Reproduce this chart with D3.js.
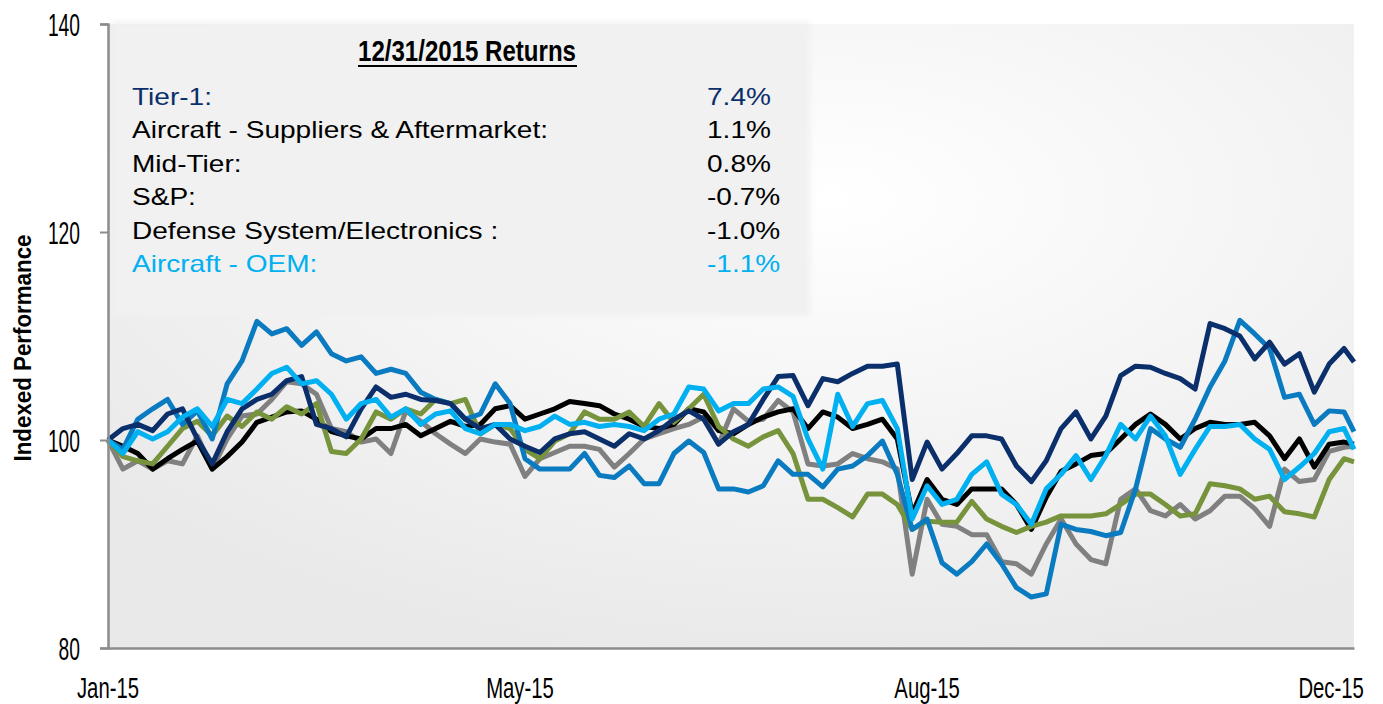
<!DOCTYPE html>
<html lang="en">
<head>
  <meta charset="UTF-8" />
  <title>Indexed Performance 2015</title>
  <script src="https://d3js.org/d3.v7.min.js"></script>
  <style>
    body {
      margin: 0;
      background: #fff;
      font-family: "Liberation Sans", Arial, sans-serif;
    }
    svg { display: block; }
  </style>
</head>
<body>
  <div id="chart"></div>

  <script>
    const width = 1383;
    const height = 704;

    // x axis: trading-day index, one sample every 3 sessions
    const xTickDays = [0, 83, 165, 247];
    const xTickLabels = ["Jan-15", "May-15", "Aug-15", "Dec-15"];
    const yTicks = [80, 100, 120, 140];

    const tier1 = [100.0,101.1,101.5,100.9,102.5,103.0,100.1,97.7,100.8,103.0,
      103.9,104.4,105.7,106.1,101.5,101.1,100.3,103.0,105.1,104.1,
      104.4,103.9,103.8,103.5,102.0,101.1,101.5,100.1,99.4,98.8,
      100.1,100.6,100.8,100.1,99.4,100.6,100.1,100.9,102.0,102.8,
      102.0,99.6,100.8,101.5,103.9,106.1,106.2,103.3,105.9,105.6,
      106.4,107.1,107.1,107.3,96.2,99.8,97.2,98.7,100.4,100.4,
      100.1,97.5,96.0,98.0,101.1,102.7,100.1,102.3,106.2,107.1,
      107.0,106.4,105.9,104.9,111.2,110.7,110.0,107.8,109.4,107.3,
      108.3,104.6,107.3,108.8,107.5];

    const suppliers = [100.0,99.1,102.0,103.0,103.9,101.5,102.8,100.1,105.4,107.6,
      111.4,110.2,110.7,109.1,110.4,108.3,107.6,108.0,106.4,106.8,
      106.4,104.6,103.9,103.5,102.0,102.5,105.4,103.5,98.2,97.2,
      97.2,97.2,98.7,96.6,96.4,97.5,95.8,95.8,98.7,99.9,
      98.8,95.3,95.3,95.0,95.6,98.0,96.7,96.7,95.5,97.2,
      97.5,98.5,99.9,96.7,91.4,92.4,88.2,87.1,88.3,90.0,
      88.1,85.8,84.9,85.2,91.9,91.4,91.2,90.8,91.1,95.3,
      101.1,100.1,99.3,102.0,105.1,107.6,111.5,110.2,108.8,104.1,
      104.4,101.5,102.8,102.7,100.8];

    const midTier = [100.0,97.2,98.0,97.2,98.0,97.7,100.4,97.2,100.1,102.3,
      102.5,103.9,105.6,105.4,104.4,101.1,100.8,99.8,100.1,98.7,
      102.8,101.8,100.6,99.6,98.7,100.1,99.8,99.6,96.5,98.2,
      98.8,99.4,99.4,99.1,97.4,98.7,100.1,100.6,101.1,101.5,
      102.2,99.6,103.0,101.8,102.0,103.8,102.7,97.7,97.5,97.7,
      98.7,98.2,97.9,97.2,87.1,94.3,91.9,91.7,90.9,90.9,
      88.3,88.1,87.1,90.0,92.4,90.0,88.5,88.1,94.3,95.3,
      93.2,92.7,93.8,92.4,93.2,94.6,94.6,93.4,91.7,97.2,
      96.0,96.2,98.9,99.3,99.4];

    const sp500 = [100.0,99.4,98.7,97.2,98.2,99.1,99.9,97.2,98.4,99.8,
      101.7,102.2,102.7,102.8,102.0,100.8,100.4,100.1,101.1,101.1,
      101.5,100.4,101.1,101.8,101.3,101.5,103.0,103.3,102.0,102.5,
      103.0,103.7,103.5,103.3,102.5,102.0,101.3,101.1,101.5,103.0,
      102.7,100.9,100.6,101.5,102.2,102.7,103.0,101.1,102.7,102.2,
      101.1,101.5,102.0,100.1,92.9,96.2,94.3,93.8,95.3,95.3,
      95.3,93.8,91.4,94.5,97.0,97.7,98.5,98.7,100.1,101.5,
      102.5,101.5,100.1,101.1,101.7,101.5,101.5,101.7,100.4,98.2,
      100.1,97.4,99.6,99.8,99.6];

    const defense = [100.0,98.4,98.0,97.7,99.4,101.1,101.8,100.4,102.3,101.3,
      102.7,102.0,103.2,102.5,103.5,98.9,98.7,100.1,102.7,102.0,
      103.0,102.5,103.9,103.5,103.9,100.6,101.5,101.1,99.1,98.2,
      99.9,100.6,102.7,102.0,102.0,102.7,101.3,103.5,101.7,103.0,
      104.4,101.3,100.1,99.4,100.3,100.9,98.7,94.3,94.3,93.5,
      92.6,94.8,94.8,93.8,91.4,92.2,92.1,92.1,94.1,92.4,
      91.7,91.1,91.7,92.1,92.7,92.7,92.7,92.9,93.8,94.8,
      94.8,93.8,92.7,92.9,95.8,95.6,95.3,94.3,94.6,93.1,
      92.9,92.6,96.2,98.2,97.9];

    const aircraftOEM = [100.0,98.7,100.8,100.1,100.8,102.2,103.0,101.3,103.9,103.5,
      104.9,106.4,107.0,105.4,105.7,104.4,102.0,103.5,103.9,102.2,
      103.0,101.5,102.5,102.8,101.1,100.6,101.5,101.5,100.9,101.3,
      102.3,101.5,101.7,101.3,101.5,101.3,100.9,102.0,102.5,105.1,
      104.9,102.8,103.5,103.5,104.9,105.1,104.2,100.1,97.2,104.4,
      101.3,103.5,103.8,101.1,92.4,95.6,93.8,94.3,96.7,97.9,
      94.8,93.8,91.9,95.3,96.7,98.5,96.2,98.5,101.5,100.1,
      102.3,100.4,96.7,99.1,101.3,101.3,101.5,100.1,99.1,96.2,
      97.4,98.7,100.8,101.1,99.1];

    const legendNames = ["Tier-1:", "Aircraft - Suppliers & Aftermarket:", "Mid-Tier:",
      "S&P:", "Defense System/Electronics :", "Aircraft - OEM:"];
    const legendReturns = ["7.4%", "1.1%", "0.8%", "-0.7%", "-1.0%", "-1.1%"];
    const legendColors = ["#0b2f6b", "#000", "#000", "#000", "#000", "#00b0f0"];

    // drawing order, back to front
    const series = [
      { values: midTier, color: "#808080" },
      { values: sp500, color: "#000000" },
      { values: defense, color: "#77933c" },
      { values: suppliers, color: "#0a7bc1" },
      { values: tier1, color: "#0b2f6b" },
      { values: aircraftOEM, color: "#00b0f0" }
    ];

    const sampleDays = tier1.map((d, i) => Math.min(i * 3, 251));

    const plot = { left: 108, right: 1354, top: 24, bottom: 648 };

    const x = d3.scaleLinear().domain([0, 251]).range([plot.left, plot.right]);
    const y = d3.scaleLinear().domain([80, 140]).range([plot.bottom, plot.top]);

    const svg = d3.select("#chart")
      .append("svg")
      .attr("width", width)
      .attr("height", height);

    const defs = svg.append("defs");
    const grad = defs.append("radialGradient")
      .attr("id", "plotBg")
      .attr("cx", "58%").attr("cy", "28%").attr("r", "75%");
    grad.append("stop").attr("offset", "0%").attr("stop-color", "#ffffff");
    grad.append("stop").attr("offset", "100%").attr("stop-color", "#e9e9e9");

    defs.append("filter").attr("id", "soft")
      .attr("x", "-5%").attr("y", "-5%").attr("width", "110%").attr("height", "110%")
      .append("feGaussianBlur").attr("stdDeviation", 3);

    svg.append("rect")
      .attr("x", plot.left).attr("y", plot.top)
      .attr("width", plot.right - plot.left).attr("height", plot.bottom - plot.top)
      .attr("fill", "url(#plotBg)");

    // legend panel
    svg.append("rect")
      .attr("x", 112).attr("y", 22)
      .attr("width", 698).attr("height", 294)
      .attr("fill", "#f1f1f1")
      .attr("filter", "url(#soft)");

    // lines
    const line = d3.line()
      .x((d, i) => x(sampleDays[i]))
      .y(d => y(d));

    svg.append("g")
      .selectAll("path")
      .data(series)
      .enter()
      .append("path")
      .attr("d", d => line(d.values))
      .attr("fill", "none")
      .attr("stroke", d => d.color)
      .attr("stroke-width", 5)
      .attr("stroke-linejoin", "round");

    // squeeze text horizontally (narrow look) without transforms
    function squeeze(sel, k) {
      sel.each(function () {
        const len = this.getComputedTextLength();
        d3.select(this)
          .attr("textLength", len * k)
          .attr("lengthAdjust", "spacingAndGlyphs");
      });
    }

    // axes
    const yAxis = svg.append("g")
      .attr("transform", `translate(${plot.left},0)`)
      .call(d3.axisLeft(y).tickValues(yTicks).tickSize(8).tickFormat(d3.format("d")));
    yAxis.select(".domain").attr("stroke", "#8c8c8c").attr("stroke-width", 2.5);
    yAxis.selectAll(".tick line").attr("stroke", "#8c8c8c").attr("stroke-width", 2);
    yAxis.selectAll(".tick text")
      .attr("x", -28)
      .attr("dy", "0.36em")
      .attr("text-anchor", "end")
      .style("font-family", "'Liberation Sans', Arial, sans-serif")
      .style("font-size", "31px")
      .attr("fill", "#000")
      .call(squeeze, 0.62);

    // x axis line only; labels drawn below as plain text
    const xAxis = svg.append("g")
      .attr("transform", `translate(0,${plot.bottom})`)
      .call(d3.axisBottom(x).tickValues(xTickDays).tickSize(0).tickFormat(""));
    xAxis.select(".domain").attr("stroke", "#8c8c8c").attr("stroke-width", 2.5);

    svg.append("g").selectAll("text")
      .data(xTickDays)
      .enter()
      .append("text")
      .attr("x", d => x(d))
      .attr("y", plot.bottom + 50)
      .attr("text-anchor", "middle")
      .style("font-size", "29px")
      .attr("fill", "#000")
      .text((d, i) => xTickLabels[i])
      .call(squeeze, 0.7)
      .filter((d, i) => i === xTickDays.length - 1)
      .attr("text-anchor", "end")
      .attr("x", function (d) { return x(d) + (+this.getAttribute("textLength")) / 2 - 3; });

    // axis title
    svg.append("text")
      .attr("text-anchor", "middle")
      .attr("transform", "translate(31,348) rotate(-90)")
      .style("font-size", "24px")
      .style("font-weight", "bold")
      .attr("textLength", 227)
      .attr("lengthAdjust", "spacingAndGlyphs")
      .text("Indexed Performance");

    // legend title
    svg.append("text")
      .attr("x", 467).attr("y", 61)
      .attr("text-anchor", "middle")
      .style("font-size", "30px")
      .style("font-weight", "bold")
      .attr("textLength", 218)
      .attr("lengthAdjust", "spacingAndGlyphs")
      .text("12/31/2015 Returns");
    svg.append("line")
      .attr("x1", 358).attr("x2", 577)
      .attr("y1", 66).attr("y2", 66)
      .attr("stroke", "#000").attr("stroke-width", 2);

    // legend rows
    const rowY = d3.range(legendNames.length).map(i => 105 + i * 33.4);
    const names = svg.append("g").selectAll("text")
      .data(legendNames)
      .enter()
      .append("text")
      .attr("x", 132)
      .attr("y", (d, i) => rowY[i])
      .style("font-size", "24px")
      .attr("fill", (d, i) => legendColors[i])
      .text(d => d);
    const k = 416 / names.nodes()[1].getComputedTextLength();
    names.call(squeeze, k);

    svg.append("g").selectAll("text")
      .data(legendReturns)
      .enter()
      .append("text")
      .attr("x", 707)
      .attr("y", (d, i) => rowY[i])
      .style("font-size", "24px")
      .attr("fill", (d, i) => legendColors[i])
      .text(d => d)
      .call(squeeze, k);
  </script>
</body>
</html>
